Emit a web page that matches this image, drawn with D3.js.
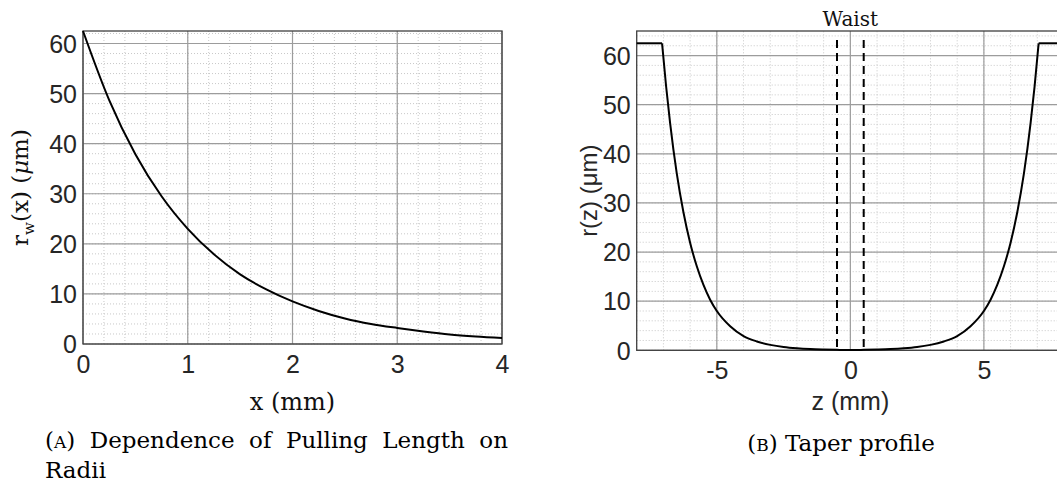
<!DOCTYPE html>
<html>
<head>
<meta charset="utf-8">
<script src="https://cdn.jsdelivr.net/npm/d3@7"></script>
<style>
  body { margin: 0; background: #fff; }
  svg { display: block; }
</style>
</head>
<body>
<script>
// panel A: pulling length vs radius
var pullX = [0, 0.25, 0.5, 0.75, 1, 1.25, 1.5, 1.75, 2, 2.25, 2.5, 2.75, 3, 3.25, 3.5, 3.75, 4];
var pullR = [62.5, 48.7, 37.9, 29.5, 23.0, 17.9, 13.9, 10.9, 8.5, 6.6, 5.1, 4.0, 3.2, 2.5, 1.9, 1.5, 1.2];
var pullXTicks = [0, 1, 2, 3, 4];
var pullYTicks = [0, 10, 20, 30, 40, 50, 60];

// panel B: taper profile
var taperZ = [-8, -7.05, -6.9, -6.75, -6.5, -6.25, -6, -5.75, -5.5, -5.25, -5, -4.5, -4, -3.5, -3, -2.5, -2, -1.5, -1, -0.5, 0,
              0.5, 1, 1.5, 2, 2.5, 3, 3.5, 4, 4.5, 5, 5.25, 5.5, 5.75, 6, 6.25, 6.5, 6.75, 6.9, 7.05, 8];
var taperR = [62.5, 62.5, 53.8, 46.3, 36.0, 28.1, 21.9, 17.1, 13.3, 10.3, 8.0, 4.9, 2.9, 1.8, 1.1, 0.66, 0.4, 0.24, 0.15, 0.09, 0.05,
              0.09, 0.15, 0.24, 0.4, 0.66, 1.1, 1.8, 2.9, 4.9, 8.0, 10.3, 13.3, 17.1, 21.9, 28.1, 36.0, 46.3, 53.8, 62.5, 62.5];
var waistZ = [-0.5, 0.5];
var taperXTicks = [-5, 0, 5];
var taperYTicks = [0, 10, 20, 30, 40, 50, 60];

var serif = "'DejaVu Serif', serif";
var sans = "'Liberation Sans', Arial, sans-serif";
var axisCol = "#262626";

var svg = d3.select("body").append("svg")
            .attr("width", 1057)
            .attr("height", 486);

function drawPanel(g, x, y, xTicks, yTicks, xMinor, yMinor) {
    var x0 = x.range()[0], x1 = x.range()[1];
    var y0 = y.range()[0], y1 = y.range()[1];

    // minor grid (dotted)
    g.selectAll("line.minx").data(xMinor).enter().append("line")
        .attr("x1", function(d){return x(d);}).attr("x2", function(d){return x(d);})
        .attr("y1", y0).attr("y2", y1)
        .attr("stroke", "#c8c8c8").attr("stroke-width", 1).attr("stroke-dasharray", "1,2");
    g.selectAll("line.miny").data(yMinor).enter().append("line")
        .attr("y1", function(d){return y(d);}).attr("y2", function(d){return y(d);})
        .attr("x1", x0).attr("x2", x1)
        .attr("stroke", "#c8c8c8").attr("stroke-width", 1).attr("stroke-dasharray", "1,2");

    // major grid
    g.selectAll("line.majx").data(xTicks).enter().append("line")
        .attr("x1", function(d){return x(d);}).attr("x2", function(d){return x(d);})
        .attr("y1", y0).attr("y2", y1)
        .attr("stroke", "#9c9c9c").attr("stroke-width", 1.2);
    g.selectAll("line.majy").data(yTicks).enter().append("line")
        .attr("y1", function(d){return y(d);}).attr("y2", function(d){return y(d);})
        .attr("x1", x0).attr("x2", x1)
        .attr("stroke", "#9c9c9c").attr("stroke-width", 1.2);

    // box
    g.append("rect")
        .attr("x", x0).attr("y", y1)
        .attr("width", x1 - x0).attr("height", y0 - y1)
        .attr("fill", "none").attr("stroke", "#404040").attr("stroke-width", 1.3);

    // tick labels
    var fmt = function(d){ return String(d); };
    var xa = g.append("g").attr("transform", "translate(0," + y0 + ")")
        .call(d3.axisBottom(x).tickValues(xTicks).tickSize(0).tickPadding(11).tickFormat(fmt));
    var ya = g.append("g").attr("transform", "translate(" + x0 + ",0)")
        .call(d3.axisLeft(y).tickValues(yTicks).tickSize(0).tickPadding(6).tickFormat(fmt));
    [xa, ya].forEach(function(a){
        a.select(".domain").remove();
        a.selectAll("text").attr("font-family", sans).attr("font-size", 25).attr("fill", axisCol);
    });
    xa.selectAll("text").attr("dy", "0.71em");
    ya.selectAll("text").attr("dy", "0.35em");
}

function minorTicks(lo, hi, step) {
    var out = [];
    var n = Math.round((hi - lo) / step);
    for (var i = 0; i <= n; i++) out.push(+(lo + i * step).toFixed(6));
    return out;
}

// ---------- panel A ----------
var xA = d3.scaleLinear().domain([0, 4]).range([83, 502]);
var yA = d3.scaleLinear().domain([0, 62.5]).range([344, 31]);
var gA = svg.append("g");
drawPanel(gA, xA, yA, pullXTicks, pullYTicks, minorTicks(0, 4, 0.2), minorTicks(0, 62, 2));

var pullData = pullX.map(function(d, i){ return [d, pullR[i]]; });
gA.append("path")
    .datum(pullData)
    .attr("d", d3.line().x(function(d){return xA(d[0]);}).y(function(d){return yA(d[1]);}).curve(d3.curveMonotoneX))
    .attr("fill", "none").attr("stroke", "#000").attr("stroke-width", 2);

gA.append("text")
    .attr("x", xA(2)).attr("y", 410)
    .attr("text-anchor", "middle")
    .attr("font-family", serif).attr("font-size", 24).attr("fill", "#111")
    .text("x (mm)");

var yLabA = gA.append("text")
    .attr("transform", "translate(28," + ((31 + 344) / 2) + ") rotate(-90)")
    .attr("text-anchor", "middle")
    .attr("font-family", serif).attr("font-size", 23).attr("fill", "#111");
yLabA.append("tspan").text("r");
yLabA.append("tspan").attr("font-size", 15).attr("dy", 6).text("w");
yLabA.append("tspan").attr("dy", -6).text("(x) (");
yLabA.append("tspan").attr("font-style", "italic").text("μ");
yLabA.append("tspan").text("m)");

// ---------- panel B ----------
var xB = d3.scaleLinear().domain([-8, 8]).range([636.7, 1064]);
var yB = d3.scaleLinear().domain([0, 65]).range([350.3, 31]);
var gB = svg.append("g");
drawPanel(gB, xB, yB, taperXTicks, taperYTicks, minorTicks(-8, 8, 1), minorTicks(0, 64, 2));

var taperData = taperZ.map(function(d, i){ return [d, taperR[i]]; });
var lineB = d3.line().x(function(d){return xB(d[0]);}).y(function(d){return yB(d[1]);});
// curved taper, flat fibre ends kept sharp
gB.append("path")
    .datum(taperData.slice(1, taperData.length - 1))
    .attr("d", lineB.curve(d3.curveMonotoneX))
    .attr("fill", "none").attr("stroke", "#000").attr("stroke-width", 2);
[taperData.slice(0, 2), taperData.slice(taperData.length - 2)].forEach(function(seg){
    gB.append("path")
        .datum(seg)
        .attr("d", d3.line().x(function(d){return xB(d[0]);}).y(function(d){return yB(d[1]);}))
        .attr("fill", "none").attr("stroke", "#000").attr("stroke-width", 2);
});

gB.selectAll("line.waist").data(waistZ).enter().append("line")
    .attr("x1", function(d){return xB(d);}).attr("x2", function(d){return xB(d);})
    .attr("y1", 40).attr("y2", yB(0))
    .attr("stroke", "#000").attr("stroke-width", 2).attr("stroke-dasharray", "8,5");

gB.append("text")
    .attr("x", xB(0)).attr("y", 26)
    .attr("text-anchor", "middle")
    .attr("font-family", serif).attr("font-size", 20).attr("fill", "#111")
    .text("Waist");

gB.append("text")
    .attr("x", xB(0)).attr("y", 410)
    .attr("text-anchor", "middle")
    .attr("font-family", sans).attr("font-size", 25).attr("fill", axisCol)
    .text("z (mm)");

gB.append("text")
    .attr("transform", "translate(597," + ((31 + 350.3) / 2) + ") rotate(-90)")
    .attr("text-anchor", "middle")
    .attr("font-family", sans).attr("font-size", 24).attr("fill", axisCol)
    .text("r(z) (μm)");

// ---------- captions ----------
function captionWord(parent, word, letter) {
    var t = parent.append("text")
        .attr("font-family", serif).attr("font-size", 23).attr("fill", "#000");
    if (letter) {
        t.append("tspan").text("(");
        t.append("tspan").attr("font-size", 17).text(letter);
        t.append("tspan").text(")");
    } else {
        t.text(word);
    }
    return t;
}

// justified first line of caption A
var capA = svg.append("g");
var wordsA = ["(A)", "Dependence", "of", "Pulling", "Length", "on"];
var nodes = wordsA.map(function(w, i){
    return captionWord(capA, w, i === 0 ? "A" : null).attr("y", 448);
});
var widths = nodes.map(function(n){ return n.node().getComputedTextLength(); });
var total = d3.sum(widths);
var gap = (508 - 45 - total) / (wordsA.length - 1);
var cx = 45;
nodes.forEach(function(n, i){
    n.attr("x", cx);
    cx += widths[i] + gap;
});
captionWord(capA, "Radii").attr("x", 45).attr("y", 478);

var capB = captionWord(svg, null, "B").attr("y", 451);
capB.append("tspan").text(" Taper profile");
var wB = capB.node().getComputedTextLength();
capB.attr("x", 841 - wB / 2);
</script>
</body>
</html>
